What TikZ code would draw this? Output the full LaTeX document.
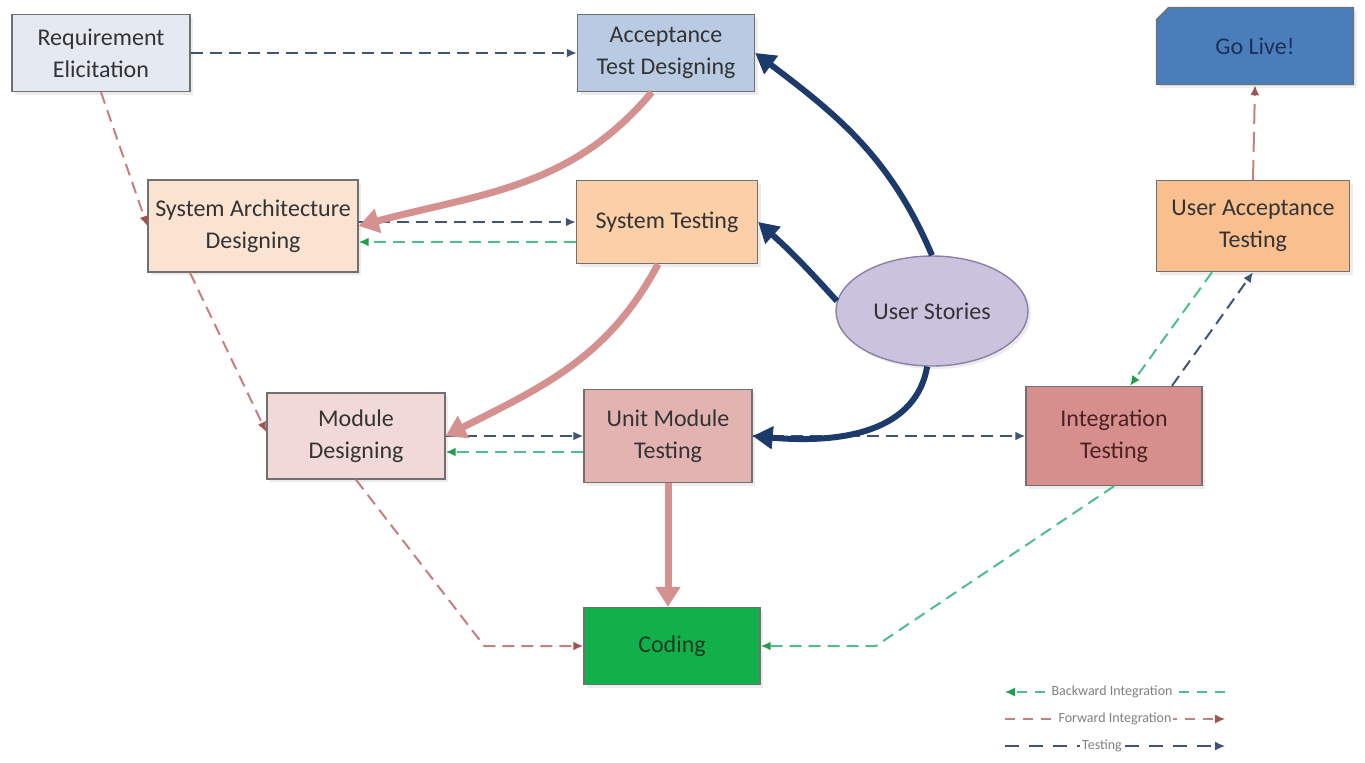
\documentclass[tikz,border=0pt]{standalone}
\usepackage{fontspec}
\setmainfont{Carlito}
\usetikzlibrary{arrows.meta,shapes.geometric,shapes.misc,shadows}

\definecolor{boxline}{HTML}{707070}
\definecolor{boxtext}{HTML}{333333}
\definecolor{tstblue}{HTML}{3F5573}
\definecolor{bwdgreen}{HTML}{4DBE8C}
\definecolor{bwddark}{HTML}{1F9E50}
\definecolor{fwdred}{HTML}{C77F7E}
\definecolor{fwddark}{HTML}{9E5552}
\definecolor{feedpink}{HTML}{D4918F}
\definecolor{storynavy}{HTML}{1C3A6A}
\definecolor{reqfill}{HTML}{E4E9F2}
\definecolor{acceptfill}{HTML}{B9CBE3}
\definecolor{livefill}{HTML}{4A7EBB}
\definecolor{livetext}{HTML}{1E2F58}
\definecolor{archfill}{HTML}{FBE3D2}
\definecolor{systestfill}{HTML}{FBCFA8}
\definecolor{uatfill}{HTML}{F9BF8F}
\definecolor{storyline}{HTML}{8A80A8}
\definecolor{storyfill}{HTML}{CBC2DD}
\definecolor{modfill}{HTML}{F0D9D8}
\definecolor{unitfill}{HTML}{E3B3B2}
\definecolor{integfill}{HTML}{D68F8D}
\definecolor{integtext}{HTML}{4A2222}
\definecolor{codefill}{HTML}{12B04A}
\definecolor{codetext}{HTML}{1E3A22}

\tikzset{
  box/.style={draw=boxline, line width=0.7pt, align=center, text=boxtext, inner sep=2pt,
    font=\fontsize{12}{16}\selectfont, drop shadow={opacity=0.15, shadow xshift=1.5pt, shadow yshift=-1.5pt}},
  tst/.style={draw=tstblue, line width=1pt, dash pattern=on 6pt off 3.5pt, -{Latex[length=5pt,width=4.5pt]}},
  bwd/.style={draw=bwdgreen, line width=1pt, dash pattern=on 6pt off 3.5pt, -{Latex[length=5pt,width=4.5pt,color=bwddark]}},
  fwd/.style={draw=fwdred, line width=1pt, dash pattern=on 6pt off 3.5pt, -{Latex[length=5pt,width=4.5pt,color=fwddark]}},
  feed/.style={draw=feedpink, line width=3.5pt, -{Triangle[length=10pt,width=12pt]}},
  story/.style={draw=storynavy, line width=3pt, -{Triangle[length=10pt,width=11pt]}},
  legtext/.style={fill=white, inner sep=1pt, text=gray, font=\fontsize{7}{8}\selectfont}
}

\begin{document}
\begin{tikzpicture}[x=0.5pt,y=0.5pt]
  \useasboundingbox[fill=white] (0,0) rectangle (1365,-762);

  \node[box, fill=reqfill, minimum width=89pt, minimum height=38.5pt] (req) at (101,-53) {Requirement\\Elicitation};
  \node[box, fill=acceptfill, minimum width=88.5pt, minimum height=38.5pt] (accept) at (666,-53) {Acceptance\\Test Designing};
  \node[box, fill=livefill, text=livetext, chamfered rectangle, chamfered rectangle corners=north west,
    chamfered rectangle xsep=3pt, chamfered rectangle ysep=3pt, minimum width=98.5pt, minimum height=38.5pt] (golive) at (1255,-46) {Go Live!};
  \node[box, fill=archfill, minimum width=105pt, minimum height=46pt] (sysarch) at (253,-226) {System Architecture\\Designing};
  \node[box, fill=systestfill, minimum width=90.5pt, minimum height=41.5pt] (systest) at (667,-222) {System Testing};
  \node[box, fill=uatfill, minimum width=96.5pt, minimum height=45.5pt] (uat) at (1253,-226) {User Acceptance\\Testing};
  \node[box, ellipse, draw=storyline, fill=storyfill, inner sep=0pt, minimum width=96pt, minimum height=55pt] (stories) at (932,-311) {User Stories};
  \node[box, fill=modfill, minimum width=89pt, minimum height=43pt] (moddes) at (356,-436) {Module\\Designing};
  \node[box, fill=unitfill, minimum width=84pt, minimum height=46.5pt] (unit) at (668,-436) {Unit Module\\Testing};
  \node[box, fill=integfill, text=integtext, minimum width=88pt, minimum height=49.5pt] (integ) at (1114,-436) {Integration\\Testing};
  \node[box, fill=codefill, text=codetext, minimum width=88pt, minimum height=38.5pt] (coding) at (672,-646) {Coding};

  % dashed links
  \draw[tst] (req.east) -- (accept.west);
  \draw[fwd] (req.south) -- (sysarch.west);
  \draw[fwd] ([xshift=-31.5pt]sysarch.south) -- ([yshift=2pt]moddes.west);
  \draw[tst] ([yshift=2pt]sysarch.east) -- (systest.west);
  \draw[bwd] ([yshift=-10pt]systest.west) -- ([yshift=-8pt]sysarch.east);
  \draw[tst] (moddes.east) -- (unit.west);
  \draw[bwd] ([yshift=-8pt]unit.west) -- ([yshift=-8pt]moddes.east);
  \draw[tst] (unit.east) -- (integ.west);
  \draw[fwd] (moddes.south) -- ([xshift=-49.5pt]coding.west) -- (coding.west);
  \draw[bwd] (integ.south) -- ([xshift=57.5pt]coding.east) -- (coding.east);
  \draw[tst] ([xshift=29pt]integ.north) -- (uat.south);
  \draw[bwd] ([xshift=-20.5pt]uat.south) -- ([xshift=8pt]integ.north);
  \draw[fwd, dash pattern=on 10pt off 4pt] (uat.north) -- (golive.south);

  % thick links
  \draw[feed] (unit.south) -- (unit.south |- coding.north);
  \draw[feed] (accept.250) to[out=-130, in=15] (sysarch.east);
  \draw[feed] (systest.258) to[out=-118, in=27] (moddes.east);
  \draw[story] (stories.north) to[out=113, in=-37] (accept.east);
  \draw[story] (stories.174) to[out=132, in=-42] (systest.east);
  \draw[story] (stories.265) to[out=-100, in=-5] (unit.east);

  % legend
  \coordinate (lb1) at (1005,-692); \coordinate (lb2) at (1225,-692);
  \coordinate (lf1) at (1005,-719); \coordinate (lf2) at (1225,-719);
  \coordinate (lt1) at (1005,-746); \coordinate (lt2) at (1225,-746);
  \draw[bwd, line width=0.7pt, dash pattern=on 5pt off 4pt] (lb2) -- (lb1);
  \draw[fwd, line width=0.7pt, dash pattern=on 5pt off 4pt] (lf1) -- (lf2);
  \draw[tst, line width=0.7pt, dash pattern=on 7pt off 5pt] (lt1) -- (lt2);
  \node[legtext] (legback) at (1112,-692) {Backward Integration};
  \node[legtext] (legfwd) at (1115,-719) {Forward Integration};
  \node[legtext] (legtst) at (1102,-746) {Testing};
\end{tikzpicture}
\end{document}
